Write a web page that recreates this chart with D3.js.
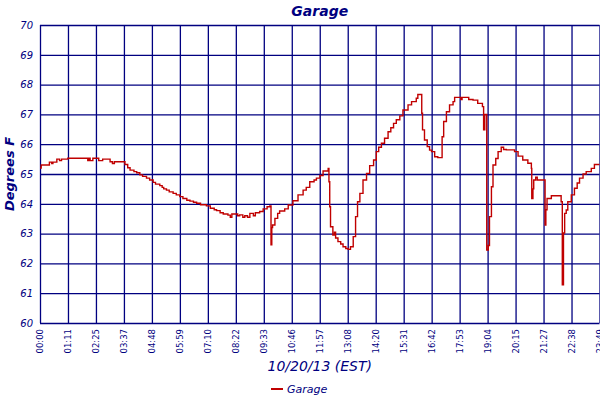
<html>
<head>
    <title>Garage</title>
    <script src="https://d3js.org/d3.v7.min.js"></script>
    <style>
        body { margin: 0; background: #fff; }
        text { fill: #000080; }
    </style>
</head>
<body>
<script>

    // temperature readings, minutes after midnight and degrees F
    var minutes = [0, 3, 24, 30, 33, 43, 50, 55, 71, 90, 110, 122, 125, 128, 135, 150, 160, 179, 185, 190, 196,
        217, 224, 230, 240, 247, 255, 262, 272, 280, 289, 295, 306, 312, 316, 323, 330, 340, 348, 357, 365,
        375, 383, 392, 400, 410, 425, 435, 445, 451, 460, 468, 480, 486, 490, 493, 505, 510, 518, 523, 530,
        536, 545, 550, 561, 570, 580, 587, 590, 592, 594, 600, 607, 612, 625, 634, 646, 659, 672, 680, 689,
        700, 706, 715, 723, 736, 738, 740, 742, 748, 752, 755, 761, 768, 774, 781, 787, 793, 800, 806, 811,
        817, 825, 834, 842, 852, 859, 865, 872, 880, 889, 896, 903, 910, 919, 927, 940, 949, 961, 965, 975,
        977, 982, 989, 995, 1000, 1008, 1016, 1023, 1027, 1031, 1038, 1046, 1055, 1059, 1075, 1078, 1089, 1095,
        1106, 1118, 1130, 1133, 1136, 1141, 1145, 1148, 1153, 1157, 1164, 1170, 1178, 1184, 1191, 1212, 1221,
        1233, 1246, 1255, 1256, 1259, 1261, 1266, 1270, 1276, 1289, 1290, 1292, 1295, 1306, 1323, 1331, 1334,
        1337, 1340, 1344, 1348, 1357, 1365, 1372, 1378, 1387, 1395, 1408, 1416, 1429];

    var temps = [65.2, 65.3, 65.4, 65.35, 65.4, 65.5, 65.45, 65.5, 65.53, 65.53, 65.53, 65.45, 65.53, 65.45, 65.53, 65.45, 65.5, 65.41, 65.35, 65.41, 65.41,
        65.32, 65.21, 65.13, 65.08, 65.04, 64.97, 64.92, 64.86, 64.8, 64.72, 64.66, 64.61, 64.55, 64.5, 64.46, 64.4, 64.35, 64.3, 64.24, 64.18,
        64.12, 64.09, 64.05, 64.02, 63.97, 63.93, 63.85, 63.8, 63.77, 63.7, 63.66, 63.62, 63.55, 63.66, 63.66, 63.6, 63.63, 63.55, 63.6, 63.55,
        63.68, 63.6, 63.7, 63.74, 63.83, 63.9, 63.93, 62.62, 63.2, 63.29, 63.51, 63.68, 63.76, 63.83, 63.96, 64.1, 64.3, 64.46, 64.55, 64.74,
        64.8, 64.86, 64.95, 65.1, 65.19, 64.74, 63.9, 63.23, 62.95, 63.05, 62.85, 62.73, 62.65, 62.56, 62.5, 62.47, 62.56, 62.9, 63.57, 64.07,
        64.35, 64.8, 65.02, 65.28, 65.47, 65.75, 65.9, 66.03, 66.2, 66.42, 66.55, 66.7, 66.82, 66.95, 67.15, 67.32, 67.43, 67.54, 67.67, 67.04,
        66.48, 66.14, 65.92, 65.8, 65.75, 65.58, 65.55, 65.55, 66.25, 66.76, 67.09, 67.32, 67.43, 67.57, 67.5, 67.57, 67.57, 67.5,
        67.48, 67.37, 67.26, 66.48, 67.0, 62.45, 62.6, 63.57, 64.57, 65.3, 65.52, 65.75, 65.9, 65.82, 65.81, 65.75, 65.6,
        65.47, 65.36, 65.19, 64.18, 64.5, 64.8, 64.89, 64.8, 64.8, 64.8, 63.29, 63.8, 64.18, 64.27, 64.27, 64.07, 61.28,
        63.02, 63.68, 63.79, 64.07, 64.3, 64.52, 64.7, 64.86, 65.0, 65.08, 65.19, 65.32, 65.32];

    var timeLabels = ["00:00", "01:11", "02:25", "03:37", "04:48", "05:59", "07:10", "08:22", "09:33", "10:46",
        "11:57", "13:08", "14:20", "15:31", "16:42", "17:53", "19:04", "20:15", "21:27", "22:38", "23:49"];

    var tempTicks = [60, 61, 62, 63, 64, 65, 66, 67, 68, 69, 70];

    var data = minutes.map(function (m, i) { return {m: m, t: temps[i]}; });

    var width = 600,
        height = 400,
        marginLeft = 40,
        marginTop = 25,
        plotW = 559.5,
        plotH = 298;

    var svg = d3.select("body")
        .append("svg")
        .attr("width", width)
        .attr("height", height);

    var x = d3.scaleLinear().domain([0, 1429]).range([0, plotW]);
    var y = d3.scaleLinear().domain([60, 70]).range([plotH, 0]);

    // tick positions: labels spread evenly over the day
    var tickPos = timeLabels.map(function (d, i) { return i * 1429 / (timeLabels.length - 1); });

    var g = svg.append("g").attr("transform", "translate(" + marginLeft + "," + marginTop + ")");

    // horizontal grid + y labels
    var yAxis = g.append("g")
        .call(d3.axisLeft(y).tickValues(tempTicks).tickSize(-plotW).tickPadding(7).tickFormat(d3.format("d")));
    yAxis.select(".domain").remove();
    yAxis.selectAll("line").attr("stroke", "#000080").attr("stroke-width", 1.3);
    yAxis.selectAll("text")
        .style("font-family", "DejaVu Sans")
        .style("font-style", "italic")
        .style("font-size", "10px")
        .attr("fill", "#000080");

    // vertical grid + time labels
    var xAxis = g.append("g")
        .attr("transform", "translate(0," + plotH + ")")
        .call(d3.axisBottom(x).tickValues(tickPos).tickSize(-plotH).tickPadding(6)
            .tickFormat(function (d, i) { return timeLabels[i]; }));
    xAxis.select(".domain").remove();
    xAxis.selectAll("line").attr("stroke", "#000080").attr("stroke-width", 1.3);
    xAxis.selectAll("text")
        .attr("transform", "rotate(-90)")
        .attr("x", -6)
        .attr("y", 0)
        .attr("dy", "0.32em")
        .style("text-anchor", "end")
        .style("font-family", "DejaVu Sans")
        .style("font-size", "8.5px")
        .attr("fill", "#000080");

    // the temperature trace
    var line = d3.line()
        .curve(d3.curveStepAfter)
        .x(function (d) { return x(d.m); })
        .y(function (d) { return y(d.t); });

    g.append("path")
        .datum(data)
        .attr("fill", "none")
        .attr("stroke", "#c00000")
        .attr("stroke-width", 1.4)
        .attr("d", line);

    // titles
    svg.append("text")
        .attr("x", marginLeft + plotW / 2)
        .attr("y", 16)
        .attr("text-anchor", "middle")
        .style("font-family", "DejaVu Sans")
        .style("font-style", "italic")
        .style("font-weight", "bold")
        .style("font-size", "14px")
        .text("Garage");

    svg.append("text")
        .attr("transform", "translate(14," + (marginTop + plotH / 2) + ") rotate(-90)")
        .attr("text-anchor", "middle")
        .style("font-family", "DejaVu Sans")
        .style("font-style", "italic")
        .style("font-weight", "bold")
        .style("font-size", "13px")
        .text("Degrees F");

    svg.append("text")
        .attr("x", marginLeft + plotW / 2)
        .attr("y", 371)
        .attr("text-anchor", "middle")
        .style("font-family", "DejaVu Sans")
        .style("font-style", "italic")
        .style("font-size", "14px")
        .text("10/20/13 (EST)");

    // legend
    svg.append("line")
        .attr("x1", 271).attr("x2", 283)
        .attr("y1", 389).attr("y2", 389)
        .attr("stroke", "#c00000")
        .attr("stroke-width", 2);

    svg.append("text")
        .attr("x", 287)
        .attr("y", 393)
        .style("font-family", "DejaVu Sans")
        .style("font-style", "italic")
        .style("font-size", "11px")
        .text("Garage");

</script>
</body>
</html>
